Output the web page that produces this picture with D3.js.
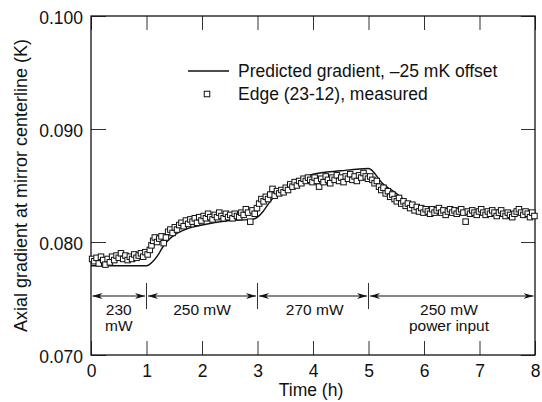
<!DOCTYPE html>
<html>
<head>
<meta charset="utf-8">
<script src="https://cdn.jsdelivr.net/npm/d3@7"></script>
<style>
  body { margin: 0; background: #fff; }
  text { font-family: "Liberation Sans", Arial, sans-serif; fill: #111; }
</style>
</head>
<body>
<script>
// measured squares: [time h, gradient K]
const measured = [
  [0.02,0.0785],[0.06,0.0783],[0.10,0.0786],[0.14,0.0781],[0.18,0.0787],[0.22,0.0784],[0.26,0.0780],[0.30,0.0785],
  [0.34,0.0782],[0.38,0.0787],[0.42,0.0784],[0.46,0.0788],[0.50,0.0786],[0.54,0.0790],[0.58,0.0785],[0.62,0.0788],
  [0.66,0.0784],[0.70,0.0787],[0.74,0.0785],[0.78,0.0789],[0.82,0.0786],[0.86,0.0788],[0.90,0.0790],[0.94,0.0787],
  [0.98,0.0791],[1.02,0.0789],[1.06,0.0793],[1.09,0.0797],[1.12,0.0801],[1.15,0.0804],[1.19,0.0800],[1.23,0.0803],
  [1.27,0.0805],[1.31,0.0799],[1.35,0.0804],[1.39,0.0809],[1.43,0.0811],[1.47,0.0808],[1.51,0.0813],[1.55,0.0811],
  [1.59,0.0815],[1.63,0.0817],[1.67,0.0814],[1.71,0.0819],[1.75,0.0816],[1.79,0.0820],[1.83,0.0818],[1.87,0.0821],
  [1.91,0.0817],[1.95,0.0822],[1.99,0.0819],[2.03,0.0823],[2.07,0.0821],[2.11,0.0825],[2.15,0.0822],[2.19,0.0820],
  [2.23,0.0824],[2.27,0.0822],[2.31,0.0826],[2.35,0.0823],[2.39,0.0821],[2.43,0.0825],[2.47,0.0822],[2.51,0.0824],
  [2.55,0.0821],[2.59,0.0825],[2.63,0.0823],[2.67,0.0822],[2.71,0.0826],[2.75,0.0824],[2.79,0.0829],[2.83,0.0826],
  [2.87,0.0818],[2.91,0.0828],[2.95,0.0825],[2.99,0.0830],[3.03,0.0834],[3.07,0.0838],[3.11,0.0836],[3.15,0.0840],
  [3.19,0.0838],[3.23,0.0842],[3.27,0.0847],[3.31,0.0841],[3.35,0.0845],[3.39,0.0843],[3.43,0.0846],[3.47,0.0844],
  [3.51,0.0848],[3.55,0.0846],[3.59,0.0851],[3.63,0.0849],[3.67,0.0853],[3.71,0.0850],[3.75,0.0854],[3.79,0.0852],
  [3.83,0.0856],[3.87,0.0854],[3.91,0.0857],[3.95,0.0855],[3.99,0.0853],[4.03,0.0857],[4.07,0.0854],[4.11,0.0849],
  [4.15,0.0856],[4.19,0.0853],[4.23,0.0858],[4.27,0.0855],[4.31,0.0852],[4.35,0.0857],[4.39,0.0855],[4.43,0.0859],
  [4.47,0.0854],[4.51,0.0857],[4.55,0.0853],[4.59,0.0858],[4.63,0.0856],[4.67,0.0860],[4.71,0.0855],[4.75,0.0858],
  [4.79,0.0854],[4.83,0.0859],[4.87,0.0857],[4.91,0.0861],[4.95,0.0858],[4.99,0.0856],[5.03,0.0858],[5.07,0.0855],
  [5.11,0.0852],[5.15,0.0854],[5.19,0.0849],[5.23,0.0846],[5.27,0.0848],[5.31,0.0843],[5.35,0.0845],[5.39,0.0840],
  [5.43,0.0842],[5.47,0.0838],[5.51,0.0836],[5.55,0.0839],[5.59,0.0834],[5.63,0.0836],[5.67,0.0832],[5.71,0.0834],
  [5.75,0.0830],[5.79,0.0833],[5.83,0.0828],[5.87,0.0831],[5.91,0.0827],[5.95,0.0830],[5.99,0.0826],[6.03,0.0829],
  [6.07,0.0827],[6.11,0.0825],[6.15,0.0829],[6.19,0.0826],[6.23,0.0828],[6.27,0.0830],[6.31,0.0826],[6.35,0.0828],
  [6.39,0.0824],[6.43,0.0827],[6.47,0.0829],[6.51,0.0826],[6.55,0.0828],[6.59,0.0825],[6.63,0.0827],[6.67,0.0829],
  [6.71,0.0826],[6.75,0.0818],[6.79,0.0827],[6.83,0.0825],[6.87,0.0828],[6.91,0.0826],[6.95,0.0824],[6.99,0.0827],
  [7.03,0.0829],[7.07,0.0826],[7.11,0.0824],[7.15,0.0827],[7.19,0.0825],[7.23,0.0828],[7.27,0.0826],[7.31,0.0823],
  [7.35,0.0826],[7.39,0.0828],[7.43,0.0825],[7.47,0.0823],[7.51,0.0826],[7.55,0.0824],[7.59,0.0822],[7.63,0.0825],
  [7.67,0.0827],[7.71,0.0829],[7.75,0.0826],[7.79,0.0824],[7.83,0.0827],[7.87,0.0825],[7.91,0.0822],[7.95,0.0826],
  [7.99,0.0823]
];

// predicted gradient curve (-25 mK offset)
const predicted = [
  [0,0.0779],[1.0,0.0779],[1.05,0.0780],[1.1,0.0782],[1.2,0.0788],[1.3,0.0796],[1.4,0.0802],[1.5,0.0806],
  [1.75,0.0812],[2.0,0.0815],[2.5,0.0819],[2.9,0.0820],[3.0,0.0822],[3.1,0.0827],[3.2,0.0834],[3.3,0.0840],
  [3.5,0.0848],[3.75,0.0855],[4.0,0.0860],[4.5,0.0863],[5.0,0.0865],[5.25,0.0852],[5.5,0.0843],[5.75,0.0834],
  [6.0,0.0829],[6.5,0.0827],[7.0,0.0826],[8.0,0.0825]
];

// power input periods
const powerBounds = [[0,1],[1,3],[3,5],[5,8]];
const powerDividers = [1,3,5];
const powerLabels = [
  {t: 0.5, lines: ["230", "mW"]},
  {t: 2.0, lines: ["250 mW"]},
  {t: 4.03, lines: ["270 mW"]},
  {t: 6.45, lines: ["250 mW", "power input"]}
];
const powerLevel = 0.07522;

const xTicks = [0,1,2,3,4,5,6,7,8];
const yTicks = [0.070,0.080,0.090,0.100];

const width = 542, height = 402;
const margin = {top: 16, right: 7, bottom: 47, left: 91};

const svg = d3.select("body").append("svg")
  .attr("width", width)
  .attr("height", height);

const x = d3.scaleLinear().domain([0, 8]).range([margin.left, width - margin.right]);
const y = d3.scaleLinear().domain([0.070, 0.100]).range([height - margin.bottom, margin.top]);

// axes, ticks pointing inward
svg.append("g")
  .attr("transform", `translate(0,${y(0.070)})`)
  .call(d3.axisBottom(x).tickValues(xTicks).tickFormat(d3.format("d")).tickSize(-14).tickPadding(10));
svg.append("g")
  .attr("transform", `translate(0,${y(0.100)})`)
  .call(d3.axisTop(x).tickValues(xTicks).tickSize(-14).tickFormat(""));
const yAxis = svg.append("g")
  .attr("transform", `translate(${x(0)},0)`)
  .call(d3.axisLeft(y).tickValues(yTicks).tickFormat(d3.format(".3f")).tickSize(-15).tickPadding(8));
svg.append("g")
  .attr("transform", `translate(${x(8)},0)`)
  .call(d3.axisRight(y).tickValues(yTicks).tickSize(-14).tickFormat(""));

svg.selectAll(".domain").remove();
svg.selectAll(".tick line").attr("stroke", "#333").attr("stroke-width", 1);
svg.selectAll(".tick text").style("font-size", "17.5px").attr("fill", "#111");
yAxis.selectAll(".tick text").attr("dy", "0.42em");

// frame
svg.append("rect")
  .attr("x", x(0)).attr("y", y(0.100))
  .attr("width", x(8) - x(0)).attr("height", y(0.070) - y(0.100))
  .attr("fill", "none").attr("stroke", "#111").attr("stroke-width", 1.3);

// axis titles
svg.append("text")
  .attr("x", (x(0) + x(8)) / 2 - 2)
  .attr("y", 396)
  .attr("text-anchor", "middle")
  .style("font-size", "17.5px")
  .text("Time (h)");

svg.append("text")
  .attr("transform", `translate(27,${(y(0.070) + y(0.100)) / 2}) rotate(-90)`)
  .attr("text-anchor", "middle")
  .style("font-size", "18px")
  .text("Axial gradient at mirror centerline (K)");

// power input annotation
const defs = svg.append("defs");
defs.append("marker")
  .attr("id", "arrow")
  .attr("viewBox", "0 0 10 6")
  .attr("refX", 10).attr("refY", 3)
  .attr("markerWidth", 10).attr("markerHeight", 6)
  .attr("markerUnits", "userSpaceOnUse")
  .attr("orient", "auto-start-reverse")
  .append("path")
  .attr("d", "M0,0 L10,3 L0,6 L3,3 Z")
  .attr("fill", "#111");

svg.append("g").selectAll("line")
  .data(powerBounds)
  .enter()
  .append("line")
  .attr("x1", (d) => x(d[0]) + 1.5)
  .attr("x2", (d) => x(d[1]) - 1.5)
  .attr("y1", y(powerLevel))
  .attr("y2", y(powerLevel))
  .attr("stroke", "#111")
  .attr("stroke-width", 1)
  .attr("marker-start", "url(#arrow)")
  .attr("marker-end", "url(#arrow)");

svg.append("g").selectAll("line")
  .data(powerDividers)
  .enter()
  .append("line")
  .attr("x1", (d) => x(d)).attr("x2", (d) => x(d))
  .attr("y1", y(powerLevel) - 13).attr("y2", y(powerLevel) + 13)
  .attr("stroke", "#333").attr("stroke-width", 1);

const labelG = svg.append("g");
powerLabels.forEach((lab) => {
  lab.lines.forEach((txt, i) => {
    labelG.append("text")
      .attr("x", x(lab.t))
      .attr("y", y(powerLevel) + 19 + i * 16)
      .attr("text-anchor", "middle")
      .style("font-size", "15.5px")
      .text(txt);
  });
});

// predicted curve
const line = d3.line()
  .x((d) => x(d[0]))
  .y((d) => y(d[1]))
  .curve(d3.curveMonotoneX);

svg.append("path")
  .datum(predicted)
  .attr("fill", "none")
  .attr("stroke", "#111")
  .attr("stroke-width", 1.4)
  .attr("d", line);

// measured squares
const sq = 5.5;
svg.append("g").selectAll("rect")
  .data(measured)
  .enter()
  .append("rect")
  .attr("x", (d) => x(d[0]) - sq / 2)
  .attr("y", (d) => y(d[1]) - sq / 2)
  .attr("width", sq)
  .attr("height", sq)
  .attr("fill", "#fff")
  .attr("stroke", "#111")
  .attr("stroke-width", 1);

// legend
const legend = svg.append("g");
legend.append("line")
  .attr("x1", 188).attr("x2", 229)
  .attr("y1", 71).attr("y2", 71)
  .attr("stroke", "#111").attr("stroke-width", 1.6);
legend.append("rect")
  .attr("x", 207 - sq / 2).attr("y", 94 - sq / 2)
  .attr("width", sq).attr("height", sq)
  .attr("fill", "#fff").attr("stroke", "#111").attr("stroke-width", 1);
legend.append("text")
  .attr("x", 238).attr("y", 77)
  .style("font-size", "17.5px")
  .text("Predicted gradient, \u201325 mK offset");
legend.append("text")
  .attr("x", 238).attr("y", 100)
  .style("font-size", "17.5px")
  .text("Edge (23-12), measured");
</script>
</body>
</html>
